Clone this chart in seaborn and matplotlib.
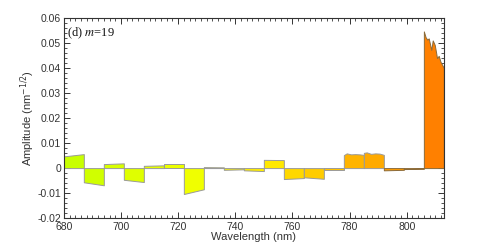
import matplotlib
matplotlib.use("Agg")
import matplotlib.pyplot as plt
from matplotlib.ticker import MultipleLocator
import seaborn as sns

# 19 wavelength bins, 7 nm wide; amplitude read at a few points in each bin
seg_wl = [
    [680, 687], [687, 694], [694, 701], [701, 708], [708, 715],
    [715, 722], [722, 729], [729, 736], [736, 743], [743, 750],
    [750, 757], [757, 764], [764, 771], [771, 778],
    [778, 779, 780.5, 782, 783.5, 785],
    [785, 786, 787.5, 789, 790.5, 792],
    [792, 799], [799, 806],
    [806, 806.6, 807.2, 807.7, 808.6, 809.1, 809.8, 810.3, 810.6,
     811.2, 811.8, 812.4, 813],
]
seg_amp = [
    [0.0047, 0.0056], [-0.0057, -0.0069], [0.0016, 0.0019],
    [-0.0047, -0.0056], [0.0009, 0.0011], [0.0016, 0.0016],
    [-0.0104, -0.0085], [0.0004, 0.0003], [-0.0007, -0.0005],
    [-0.0009, -0.0012], [0.0033, 0.0032], [-0.0044, -0.0040],
    [-0.0037, -0.0043], [-0.0007, -0.0007],
    [0.0052, 0.0059, 0.0055, 0.0056, 0.0055, 0.0053],
    [0.0061, 0.0063, 0.0057, 0.0059, 0.0058, 0.0053],
    [-0.0009, -0.0007], [-0.0004, -0.0003],
    [0.0548, 0.0525, 0.0515, 0.0520, 0.0474, 0.0512, 0.0494, 0.0462,
     0.0441, 0.0450, 0.0427, 0.0414, 0.0401],
]
seg_colors = [
    "#c8ff00", "#d0ff00", "#d8ff00", "#dfff00", "#e5ff00",
    "#ebff00", "#f0ff00", "#f6fa00", "#fbf400", "#ffee00",
    "#ffe800", "#ffd800", "#ffcc00", "#ffc200", "#ffb400",
    "#ffaa00", "#ff9c00", "#ff9000", "#ff8000",
]

sns.set_theme(style="ticks")
plt.rcParams["font.family"] = ["Liberation Sans", "DejaVu Sans"]

fig = plt.figure(figsize=(4.91, 2.46), dpi=100)
ax = fig.add_axes([0.130, 0.114, 0.774, 0.811])

for wl, amp, col in zip(seg_wl, seg_amp, seg_colors):
    edge = "#8a6a3a" if col in ("#ff8000", "#ff9000", "#ff9c00") else "#9a9a9a"
    ax.fill_between(wl, 0, amp, facecolor=col, edgecolor=edge, linewidth=0.7)

ax.set_xlim(680, 813)
ax.set_ylim(-0.02, 0.06)
ax.xaxis.set_major_locator(MultipleLocator(20))
ax.xaxis.set_minor_locator(MultipleLocator(2))
ax.yaxis.set_minor_locator(MultipleLocator(0.002))
ax.set_yticks([-0.02, -0.01, 0, 0.01, 0.02, 0.03, 0.04, 0.05, 0.06])
ax.set_yticklabels(["-0.02", "-0.01", "0", "0.01", "0.02", "0.03", "0.04", "0.05", "0.06"])

ax.tick_params(which="both", direction="in", top=True, right=True,
               colors="#333333", labelsize=7.5)
ax.tick_params(axis="y", pad=2)
ax.tick_params(axis="x", pad=3)
ax.tick_params(which="major", length=4, width=0.7)
ax.tick_params(which="minor", length=2, width=0.6)
for sp in ax.spines.values():
    sp.set_color("#333333")
    sp.set_linewidth(0.8)

ax.set_xlabel("Wavelength (nm)", fontsize=8, color="#333333", labelpad=0)
ax.set_ylabel("Amplitude (nm$^{-1/2}$)", fontsize=8, color="#333333", labelpad=0)

ax.text(0.008, 0.925, "(d) $m$=19", transform=ax.transAxes, ha="left", va="center",
        fontsize=9, family=["Liberation Serif", "DejaVu Serif"], color="#111111",
        math_fontfamily="stix")

fig.savefig("out.png", dpi=100)
